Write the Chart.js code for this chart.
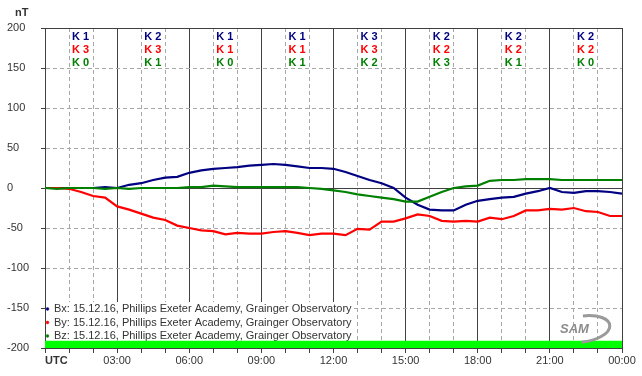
<!DOCTYPE html>
<html><head><meta charset="utf-8">
<script src="https://cdn.jsdelivr.net/npm/chart.js@4.4.1/dist/chart.umd.min.js"></script>
<style>html,body{margin:0;padding:0;background:#fff;overflow:hidden}canvas{display:block}</style>
</head><body>
<canvas id="c" width="642" height="376"></canvas>
<script>
// ---- data (hours UTC, nT) ----
const hours = [0,0.5,1,1.5,2,2.5,3,3.5,4,4.5,5,5.5,6,6.5,7,7.5,8,8.5,9,9.5,10,10.5,11,11.5,12,12.5,13,13.5,14,14.5,15,15.5,16,16.5,17,17.5,18,18.5,19,19.5,20,20.5,21,21.5,22,22.5,23,23.5,24];
const bx = [0,0,0,0,0,1,0,4,6,10,13,14,19,22,24,25,26,28,29,30,29,27,25,25,24,20,15,10,6,0,-12,-21,-27,-28,-28,-21,-16,-14,-12,-11,-7,-4,0,-5,-6,-4,-4,-5,-7];
const by = [0,0,-1,-5,-10,-12,-23,-27,-32,-37,-40,-47,-50,-53,-54,-58,-56,-57,-57,-55,-54,-56,-59,-57,-57,-59,-51,-52,-42,-42,-38,-33,-35,-41,-42,-41,-42,-37,-39,-35,-28,-28,-26,-27,-25,-29,-30,-35,-35];
const bz = [0,-1,0,0,0,-1,0,-1,0,0,0,0,1,1,3,2,1,1,1,1,1,1,0,-1,-3,-5,-8,-10,-12,-14,-17,-17,-11,-5,0,2,3,9,10,10,11,11,11,10,10,10,10,10,10];
const coverageHours = [0, 24];
const coverageLevel = [-191, -191];
const seriesNames = [
  'Bx: 15.12.16, Phillips Exeter Academy, Grainger Observatory',
  'By: 15.12.16, Phillips Exeter Academy, Grainger Observatory',
  'Bz: 15.12.16, Phillips Exeter Academy, Grainger Observatory'
];
const timeLabels = ['UTC','03:00','06:00','09:00','12:00','15:00','18:00','21:00','00:00'];
const kBx = [1,2,1,1,3,2,2,2];
const kBy = [3,3,1,1,3,2,2,2];
const kBz = [0,1,0,1,2,3,1,0];
const unitLabel = 'nT';
const logoText = 'SAM';

const colBx = '#000080', colBy = '#ff0000', colBz = '#008000';
const FONT = '"Liberation Sans", Arial, sans-serif';
Chart.defaults.font.family = FONT;
Chart.defaults.font.size = 11;
Chart.defaults.color = '#333333';

const pts = arr => arr.map((v, i) => ({x: hours[i], y: v}));
const dark = '#404040', light = '#a8a8a8';

const overlay = {
  id: 'overlay',
  afterLayout(chart) {
    if (chart.legend) {
      chart.legend.bottom = chart.chartArea.bottom - 4;
      chart.legend.left = chart.chartArea.left - 1;
    }
  },
  beforeDatasetsDraw(chart) {
    const {ctx, chartArea} = chart;
    ctx.save();
    ctx.fillStyle = '#ffffff';
    ctx.fillRect(chartArea.left + 1, 302, 307, chartArea.bottom - 302);
    ctx.restore();
    if (chart.legend) chart.legend.draw();
  },
  afterDraw(chart) {
    const {ctx, scales: {x}} = chart;
    ctx.save();
    ctx.font = 'bold 11px ' + FONT;
    ctx.textBaseline = 'middle';
    ctx.textAlign = 'left';
    const rows = [[kBx, colBx], [kBy, colBy], [kBz, colBz]];
    for (let i = 0; i < kBx.length; i++) {
      const px = x.getPixelForValue(i * 3 + 1) + 3;
      rows.forEach(([arr, col], r) => {
        ctx.fillStyle = col;
        ctx.fillText('K ' + arr[i], px, 36.5 + r * 13);
      });
    }
    ctx.fillStyle = '#333';
    ctx.fillText(unitLabel, 15, 12.5);
    ctx.fillText(timeLabels[0], x.getPixelForValue(0), 360.5);
    // logo
    ctx.strokeStyle = '#9a9a9a';
    ctx.lineWidth = 3;
    ctx.beginPath();
    ctx.ellipse(583, 329, 27, 13, -0.15, -1.5, 1.7);
    ctx.stroke();
    ctx.font = 'italic bold 13px ' + FONT;
    ctx.fillStyle = '#8c8c8c';
    ctx.fillText(logoText, 560, 329);
    ctx.restore();
  }
};

new Chart(document.getElementById('c'), {
  type: 'line',
  data: {
    datasets: [
      {label: seriesNames[0], data: pts(bx), borderColor: colBx, backgroundColor: colBx, borderWidth: 2.2, pointRadius: 0, order: 2},
      {label: seriesNames[1], data: pts(by), borderColor: colBy, backgroundColor: colBy, borderWidth: 2.2, pointRadius: 0, order: 1},
      {label: seriesNames[2], data: pts(bz), borderColor: colBz, backgroundColor: colBz, borderWidth: 2.2, pointRadius: 0, order: 0},
      {label: 'coverage', data: coverageHours.map((h, i) => ({x: h, y: coverageLevel[i]})), borderWidth: 0, borderColor: 'rgba(0,0,0,0)', backgroundColor: '#00ff00', pointRadius: 0, fill: {value: -200}, order: 10}
    ]
  },
  options: {
    responsive: false,
    animation: false,
    devicePixelRatio: 1,
    events: [],
    layout: {padding: {left: 7, top: 28, right: 20, bottom: 0}},
    plugins: {
      tooltip: {enabled: false},
      legend: {
        position: 'chartArea',
        align: 'end',
        labels: {
          usePointStyle: true,
          pointStyle: 'circle',
          boxWidth: 2,
          boxHeight: 2,
          padding: 2.5,
          color: '#333',
          font: {size: 11, family: FONT},
          filter: item => { item.lineWidth = 0.5; return item.datasetIndex < 3; },
          sort: (a, b) => a.datasetIndex - b.datasetIndex
        }
      }
    },
    scales: {
      x: {
        type: 'linear', min: 0, max: 24,
        afterFit: s => { s.height = 28; },
        ticks: {
          stepSize: 1, autoSkip: false, maxRotation: 0, padding: 1,
          color: '#333',
          callback: v => (v % 3 === 0 && v > 0) ? timeLabels[v / 3] : ''
        },
        grid: {
          color: c => (c.tick && c.tick.value % 3 !== 0) ? light : dark,
          lineWidth: 1,
          tickColor: dark, tickLength: 5, tickBorderDash: []
        },
        border: {
          display: true, color: dark,
          dash: c => (c.tick && c.tick.value % 3 !== 0) ? [4, 3] : []
        }
      },
      y: {
        min: -200, max: 200,
        afterFit: s => { s.width = 38; },
        ticks: {stepSize: 50, crossAlign: 'far', color: '#333'},
        grid: {
          color: c => (c.tick && Math.abs(c.tick.value) % 200 !== 0) ? light : dark,
          lineWidth: 1,
          tickColor: dark, tickLength: 4, tickBorderDash: []
        },
        border: {
          display: true, color: dark,
          dash: c => (c.tick && Math.abs(c.tick.value) % 200 !== 0) ? [4, 3] : []
        }
      }
    }
  },
  plugins: [overlay]
});
</script>
</body></html>
